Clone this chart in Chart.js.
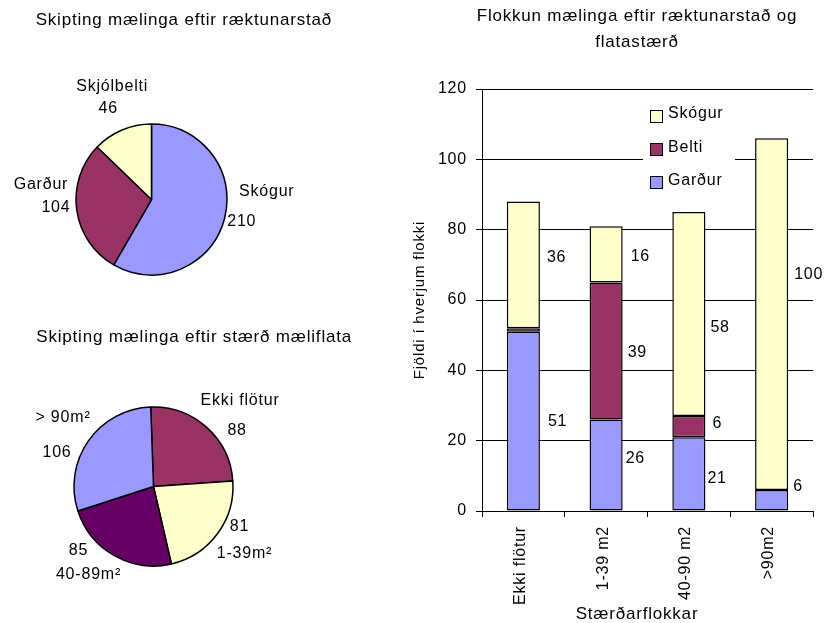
<!DOCTYPE html>
<html lang="is">
<head>
<meta charset="utf-8">
<title>Flokkun mælinga</title>
<script src="https://cdn.jsdelivr.net/npm/chart.js@4/dist/chart.umd.min.js"></script>
<style>
  html, body { margin: 0; padding: 0; background: #fff; }
  body { width: 826px; height: 623px; position: relative; overflow: hidden; }
  canvas { position: absolute; }
  #siteChart { left: -29px; top: 0; }
  #areaChart { left: -45px; top: 310px; }
  #stackChart { left: 400px; top: 0; }
</style>
</head>
<body>
<canvas id="siteChart" width="361" height="310"></canvas>
<canvas id="areaChart" width="397" height="313"></canvas>
<canvas id="stackChart" width="462" height="623"></canvas>
<script>
// Mælingar eftir ræktunarstað
const siteNames = ['Skógur', 'Garður', 'Skjólbelti'];
const siteCounts = [210, 104, 46];

// Mælingar eftir stærð mæliflata
const areaNames = ['Ekki flötur', '1-39m²', '40-89m²', '> 90m²'];
const areaCounts = [88, 81, 85, 106];

// Flokkun eftir ræktunarstað og flatastærð
const sizeClasses = ['Ekki flötur', '1-39 m2', '40-90 m2', '>90m2'];
const gardurCounts = [51, 26, 21, 6];
const beltiCounts = [1, 39, 6, 0];
const skogurCounts = [36, 16, 58, 100];
const yTickValues = [0, 20, 40, 60, 80, 100, 120];

const BLUE = '#9999FF', PLUM = '#993366', CREAM = '#FFFFCC', PURPLE = '#660066';
const FONT = "'Liberation Sans', Arial, sans-serif";
const SPACING = '0.8px';

Chart.defaults.font.family = FONT;
Chart.defaults.font.size = 16;
Chart.defaults.color = '#000';

// Canvas letter spacing (Chart.js has no option for it)
const spacedText = {
  id: 'spacedText',
  beforeLayout(chart) { chart.ctx.letterSpacing = SPACING; },
  beforeDraw(chart) { chart.ctx.letterSpacing = SPACING; }
};

// Two-line slice captions (name + count) outside the pie
const pieCaptions = {
  id: 'pieCaptions',
  afterDatasetsDraw(chart, args, opts) {
    const ctx = chart.ctx;
    const meta = chart.getDatasetMeta(0);
    const names = chart.data.labels;
    const values = chart.data.datasets[0].data;
    ctx.save();
    ctx.letterSpacing = SPACING;
    ctx.font = `16px ${FONT}`;
    ctx.fillStyle = '#000';
    ctx.textAlign = 'center';
    ctx.textBaseline = 'middle';
    meta.data.forEach((arc, i) => {
      const p = arc.getProps(['x', 'y', 'startAngle', 'endAngle', 'outerRadius'], true);
      const mid = (p.startAngle + p.endAngle) / 2;
      const r = p.outerRadius + opts.gap;
      const off = opts.offsets[i];
      const vx = p.x + Math.cos(mid) * r + off.value[0];
      const vy = p.y + Math.sin(mid) * r + off.value[1];
      ctx.fillText(String(values[i]), vx, vy);
      ctx.fillText(names[i], vx + off.name[0], vy + off.name[1]);
    });
    ctx.restore();
  }
};

// Segment values written beside each stacked bar
const barValues = {
  id: 'barValues',
  afterDatasetsDraw(chart, args, opts) {
    const ctx = chart.ctx;
    ctx.save();
    ctx.letterSpacing = SPACING;
    ctx.font = `16px ${FONT}`;
    ctx.fillStyle = '#000';
    ctx.textAlign = 'left';
    ctx.textBaseline = 'middle';
    chart.data.datasets.forEach((ds, di) => {
      const meta = chart.getDatasetMeta(di);
      meta.data.forEach((bar, i) => {
        const v = ds.data[i];
        if (v < opts.minValue) return;
        const p = bar.getProps(['x', 'y', 'base', 'width'], true);
        const n = (opts.nudges[ds.label] || [])[i] || [0, 0];
        ctx.fillText(String(v), p.x + p.width / 2 + opts.gap + n[0], (p.y + p.base) / 2 + n[1]);
      });
    });
    ctx.restore();
  }
};

// Legend boxed inside the plot area, top series first
const insetLegend = {
  id: 'insetLegend',
  beforeDatasetsDraw(chart, args, o) {
    const { ctx, chartArea } = chart;
    const left = chartArea.left + o.x;
    const top = chartArea.top + o.y;
    ctx.save();
    ctx.fillStyle = '#fff';
    ctx.fillRect(left, top, o.width, o.height);
    ctx.letterSpacing = SPACING;
    ctx.font = `16px ${FONT}`;
    ctx.textAlign = 'left';
    ctx.textBaseline = 'middle';
    ctx.lineWidth = 1;
    ctx.strokeStyle = '#000';
    chart.data.datasets.slice().reverse().forEach((ds, k) => {
      const cy = top + o.firstRow + k * o.rowGap;
      const bx = Math.round(left + o.boxX);
      const by = Math.round(cy - o.box / 2 + o.boxDrop);
      ctx.fillStyle = ds.backgroundColor;
      ctx.fillRect(bx, by, o.box, o.box);
      ctx.strokeRect(bx + 0.5, by + 0.5, o.box - 1, o.box - 1);
      ctx.fillStyle = '#000';
      ctx.fillText(ds.label, left + o.textX, cy);
    });
    ctx.restore();
  }
};

const pieBase = {
  responsive: false,
  animation: false,
  events: []
};

new Chart(document.getElementById('siteChart'), {
  type: 'pie',
  data: {
    labels: siteNames,
    datasets: [{
      data: siteCounts,
      backgroundColor: [BLUE, PLUM, CREAM],
      borderColor: '#000',
      borderWidth: 1.5,
      radius: 75.5
    }]
  },
  options: {
    ...pieBase,
    layout: { padding: { left: 0, right: 0, top: 0, bottom: 10 } },
    plugins: {
      legend: { display: false },
      tooltip: { enabled: false },
      title: {
        display: true,
        text: 'Skipting mælinga eftir ræktunarstað',
        align: 'end',
        font: { size: 17, weight: 'normal' },
        padding: { top: 10, bottom: 68.6 }
      },
      pieCaptions: {
        gap: 20,
        offsets: [
          { value: [-2, -3], name: [25, -30] },
          { value: [-1, -5], name: [-15, -23] },
          { value: [-6, -3], name: [4, -22] }
        ]
      }
    }
  },
  plugins: [spacedText, pieCaptions]
});

new Chart(document.getElementById('areaChart'), {
  type: 'pie',
  data: {
    labels: areaNames,
    datasets: [{
      data: areaCounts,
      backgroundColor: [PLUM, CREAM, PURPLE, BLUE],
      borderColor: '#000',
      borderWidth: 1.5,
      radius: 79.5
    }]
  },
  options: {
    ...pieBase,
    rotation: -2,
    layout: { padding: { left: 0, right: 0, top: 0, bottom: 10 } },
    plugins: {
      legend: { display: false },
      tooltip: { enabled: false },
      title: {
        display: true,
        text: 'Skipting mælinga eftir stærð mæliflata',
        align: 'end',
        font: { size: 17, weight: 'normal' },
        padding: { top: 17, bottom: 12.6 }
      },
      pieCaptions: {
        gap: 20,
        offsets: [
          { value: [17, 18], name: [3, -30] },
          { value: [6, -19], name: [5, 27] },
          { value: [-26, -23], name: [10, 24] },
          { value: [-15, 23], name: [6, -35] }
        ]
      }
    }
  },
  plugins: [spacedText, pieCaptions]
});

new Chart(document.getElementById('stackChart'), {
  type: 'bar',
  data: {
    labels: sizeClasses,
    datasets: [
      { label: 'Garður', data: gardurCounts, backgroundColor: BLUE },
      { label: 'Belti', data: beltiCounts, backgroundColor: PLUM },
      { label: 'Skógur', data: skogurCounts, backgroundColor: CREAM }
    ]
  },
  options: {
    responsive: false,
    animation: false,
    events: [],
    datasets: {
      bar: {
        borderColor: '#000',
        borderWidth: 1.5,
        borderSkipped: false,
        categoryPercentage: 1,
        barPercentage: 0.4
      }
    },
    layout: { padding: { left: 12, right: 0, top: 0, bottom: 0 } },
    scales: {
      x: {
        stacked: true,
        afterFit(scale) { scale.height = 95; },
        grid: { drawOnChartArea: false, drawTicks: true, tickLength: 6, color: '#000' },
        border: { color: '#000', width: 1 },
        ticks: { minRotation: 90, maxRotation: 90, padding: 9, labelOffset: -3, color: '#000', font: { size: 16 } }
      },
      y: {
        stacked: true,
        min: 0,
        max: 120,
        afterFit(scale) { scale.width = 70; },
        afterBuildTicks(scale) { scale.ticks = yTickValues.map(v => ({ value: v })); },
        grid: { color: '#000', lineWidth: 1, tickLength: 6 },
        border: { color: '#000', width: 1 },
        ticks: { padding: 9, color: '#000', font: { size: 16 } },
        title: {
          display: true,
          text: 'Fjöldi í hverjum flokki',
          font: { size: 15 },
          padding: { top: -1, bottom: 0 }
        }
      },
      // empty right-hand gutter so the titles sit centred over the whole figure
      gutter: {
        type: 'linear',
        position: 'right',
        display: true,
        afterFit(scale) { scale.width = 49; },
        grid: { display: false, drawTicks: false },
        border: { display: false },
        ticks: { display: false }
      }
    },
    plugins: {
      legend: { display: false },
      tooltip: { enabled: false },
      title: {
        display: true,
        text: ['Flokkun mælinga eftir ræktunarstað og', 'flatastærð'],
        font: { size: 17, weight: 'normal', lineHeight: 1.53 },
        padding: { top: 3, bottom: 34 }
      },
      subtitle: {
        display: true,
        position: 'bottom',
        text: 'Stærðarflokkar',
        font: { size: 17, lineHeight: 1 },
        padding: { top: 0, bottom: 0 }
      },
      insetLegend: {
        x: 161, y: 7, width: 92, height: 102,
        firstRow: 18, rowGap: 33.3,
        boxX: 7, box: 13, boxDrop: 2.3, textX: 25
      },
      barValues: {
        gap: 6,
        minValue: 2,
        nudges: {
          'Skógur': [[1, -7], [2, 2], [-1, 14], [0, -39]],
          'Belti': [null, [-1, 2], [1, -3], null],
          'Garður': [[2, 1], [-3, -6], [-4, 5], [-1, -14]]
        }
      }
    }
  },
  plugins: [spacedText, insetLegend, barValues]
});
</script>
</body>
</html>
